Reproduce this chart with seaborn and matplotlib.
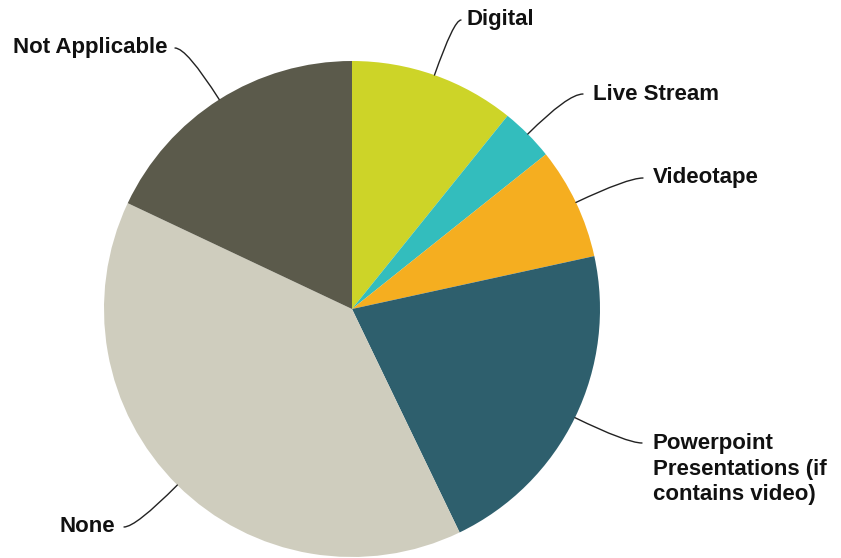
import numpy as np
import matplotlib
matplotlib.use("Agg")
import matplotlib.pyplot as plt
import seaborn as sns

sns.set_theme(style="white")
plt.rcParams["font.family"] = ["Liberation Sans", "DejaVu Sans"]

# Share of responses by video format
categories = ["Digital", "Live Stream", "Videotape",
              "Powerpoint\nPresentations (if\ncontains video)", "None", "Not Applicable"]
shares = [10.8, 3.5, 7.3, 21.3, 39.2, 18.0]
colors = ["#CDD428", "#33BDBD", "#F5AE20", "#2E5F6D", "#CFCDBE", "#5B5A4B"]

W, H = 841, 558
fig = plt.figure(figsize=(W / 100, H / 100), dpi=100)
ax = fig.add_axes([0, 0, 1, 1])

cx, cy, r = 352, H - 309, 248
wedges, _ = ax.pie(shares, colors=colors, startangle=90, counterclock=False,
                   center=(cx, cy), radius=r, frame=True,
                   wedgeprops=dict(linewidth=0))
ax.set_xlim(0, W)
ax.set_ylim(0, H)
ax.set_aspect("equal")
ax.axis("off")

# label placement: (line end x, line end y, text x, text y, alignment)
label_spots = [
    (461, 20, 467, 20, "left"),
    (583, 94, 593, 94, "left"),
    (643, 178, 653, 178, "left"),
    (642, 443, 653, 469, "left"),
    (124, 527, 115, 526, "right"),
    (175, 48, 168, 48, "right"),
]

for w, label, (lx, ly, tx, ty, ha) in zip(wedges, categories, label_spots):
    mid_deg = (w.theta1 + w.theta2) / 2
    mid = np.deg2rad(mid_deg)
    px, py = cx + r * np.cos(mid), cy + r * np.sin(mid)
    ax.annotate("", xy=(px, py), xytext=(lx, H - ly),
                arrowprops=dict(arrowstyle="-", color="#222222", lw=1.0,
                                shrinkA=0, shrinkB=0,
                                connectionstyle=f"angle3,angleA=0,angleB={mid_deg:.1f}"))
    ax.text(tx, H - ty, label, ha=ha, va="center", fontsize=16,
            fontweight="bold", color="#111111", linespacing=1.3)

fig.savefig("out.png", dpi=100, facecolor="white")
